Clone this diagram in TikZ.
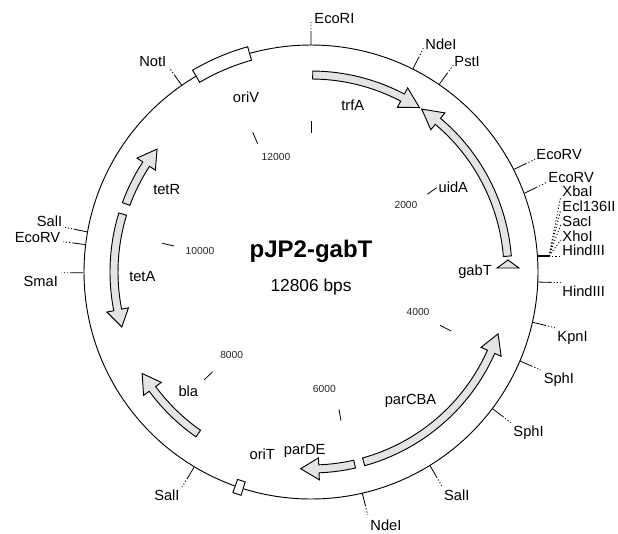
\documentclass[tikz,border=0pt]{standalone}
\usepackage{fontspec}
\setmainfont{Liberation Sans}
\usepackage{xcolor}
\usetikzlibrary{calc}
\definecolor{genefill}{HTML}{E4E4E4}

% body from #1 to #2, head from #2 to #3
\newcommand{\genearrow}[3]{%
  \draw[gene] (#1:201) arc[start angle=#1,end angle=#2,radius=201] -- (#2:208)
    -- (#3:197) -- (#2:186) -- (#2:193) arc[start angle=#2,end angle=#1,radius=193] -- cycle;}
% white box across the ring
\newcommand{\ringbox}[2]{%
  \draw[rbox] (#1:220) arc[start angle=#1,end angle=#2,radius=220] -- (#2:234)
    arc[start angle=#2,end angle=#1,radius=234] -- cycle;}

\begin{document}
\begin{tikzpicture}[
    x=.75pt,y=.75pt,
    line width=.7pt,
    gene/.style    = {draw=black,fill=genefill,line join=miter},
    rbox/.style    = {draw=black,fill=white},
    tick/.style    = {draw=black,line width=.6pt},
    dots/.style    = {draw=black,line width=.65pt,dash pattern=on .9pt off 1.5pt},
    sitelab/.style = {font=\fontsize{11}{13}\selectfont,inner sep=0pt},
    genelab/.style = {font=\fontsize{11}{13}\selectfont,inner sep=0pt},
    numlab/.style  = {font=\fontsize{7.7}{9}\selectfont,inner sep=0pt,text=black!85},
  ]
  \useasboundingbox (0,0) rectangle (618,-533);

  \draw (311,-272) circle[radius=227];

  \begin{scope}[shift={(311,-272)}]
    \ringbox{105.7}{120.4}
    \ringbox{250.5}{252.6}
    \genearrow{89.5}{62.3}{56.6}
    \genearrow{4.6}{49.9}{55.8}
    \genearrow{159.8}{146.8}{141.4}
    \genearrow{162.9}{191.1}{196.2}
    \genearrow{235.1}{216.4}{211}
    \genearrow{282.8}{272.3}{267}
    \genearrow{285.5}{336.1}{341.7}
  \end{scope}
  \draw[gene] (497,-268) -- (519,-268) -- (508,-260) -- cycle;

  % restriction sites: name / ring point / dotted end / anchor / label point / text
  \foreach \s/\ax/\ay/\bx/\by/\anch/\lx/\ly/\txt in {
      ecori/311/45/311/22/west/314/19/EcoRI,
      ndea/412.7/69.3/423.3/48.3/west/425/44/NdeI,
      psti/439.3/84.3/453.3/65/west/454/62/PstI,
      ecorva/514/169.3/535/159.3/west/536/155/EcoRV,
      ecorvb/524.3/193.3/546/182.7/west/548/177.7/EcoRV,
      hindb/537.3/282/561/282.7/west/562/291.7/HindIII,
      kpni/532.7/322.3/555/327.7/west/557/337.7/KpnI,
      sphia/520/361/540.7/370/west/543.3/380/SphI,
      sphib/492.7/408.7/510.7/422.7/west/513/432.7/SphI,
      salia/430/465.7/441.7/485.7/west/443.7/495/SalI,
      ndeb/362.3/493.3/367.7/515/west/370/525/NdeI,
      salib/194/467.3/182.3/486.7/east/180/495/SalI,
      smai/83.3/272.7/61.7/272.7/east/58.3/281.7/SmaI,
      ecorvc/86/244.7/63.3/241.7/east/60.7/237.3/EcoRV,
      salic/87.7/232/65/227.3/east/62.7/221/SalI,
      noti/181.7/85.3/169.3/67.7/east/166.7/61.7/NotI}
  {
    \coordinate (\s-a) at (\ax,-\ay);
    \coordinate (\s-b) at (\bx,-\by);
    \node[sitelab,anchor=\anch] (\s) at (\lx,-\ly) {\txt};
    \draw[tick] (\s-a) -- ($(\s-a)!.55!(\s-b)$);
    \draw[dots] ($(\s-a)!.55!(\s-b)$) -- (\s-b);
  }

  % cluster at the thick mark
  \coordinate (hub-a) at (537.3,-256);
  \coordinate (hub) at (549,-256);
  \draw[line width=1.6pt] (hub-a) -- (hub);
  \foreach \s/\ly/\ey/\txt in {xbai/191.7/196.7/XbaI,ecl/206.7/210/Ecl136II,saci/221/225/SacI,
                               xhoi/236/240/XhoI,hinda/250.7/256/HindIII}
  {
    \node[sitelab,anchor=west] (\s) at (562,-\ly) {\txt};
    \coordinate (\s-b) at (560.7,-\ey);
    \draw[dots] (hub) -- (\s-b);
  }

  % map scale
  \foreach \s/\ax/\ay/\bx/\by/\lx/\ly/\txt in {
      m0/311/121/311/132.7/0/0/,
      m12/252.7/132.3/257.7/143.7/276/157/12000,
      m10/162.3/243.3/174/246/200/251/10000,
      m8/212.7/371.7/204.3/379.7/231.7/355/8000,
      m6/339/409.3/341/420.7/324.3/389.3/6000,
      m4/440/325.3/451.3/331/418/312/4000,
      m2/427.3/194.3/436.7/187.7/406/205/2000}
  {
    \coordinate (\s-a) at (\ax,-\ay);
    \coordinate (\s-b) at (\bx,-\by);
    \draw[tick] (\s-a) -- (\s-b);
    \node[numlab] (\s) at (\lx,-\ly) {\txt};
  }

  \node[genelab] (trfa) at (352.7,-105) {trfA};
  \node[genelab] (oriv) at (246,-97.3) {oriV};
  \node[genelab] (uida) at (453.3,-187.2) {uidA};
  \node[genelab] (gabt) at (475,-271.5) {gabT};
  \node[genelab] (tetr) at (166.7,-189.5) {tetR};
  \node[genelab] (teta) at (142.3,-276.7) {tetA};
  \node[genelab] (bla) at (188.3,-391) {bla};
  \node[genelab] (orit) at (262.3,-454) {oriT};
  \node[genelab] (parde) at (304.7,-451.3) {parDE};
  \node[genelab] (parcba) at (410.5,-401) {parCBA};

  \node[font=\fontsize{18}{20}\selectfont\bfseries,inner sep=0pt] (title) at (311,-251) {pJP2-gabT};
  \node[font=\fontsize{13}{15}\selectfont,inner sep=0pt] (bps) at (311,-287.5) {12806 bps};

\end{tikzpicture}
\end{document}
